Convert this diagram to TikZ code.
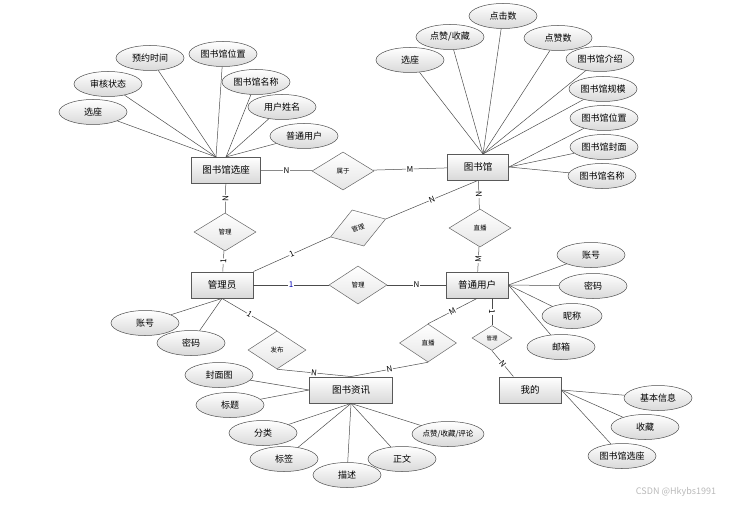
\documentclass[tikz,border=0pt]{standalone}
\usepackage{fontspec}
\setmainfont{Noto Sans CJK SC}
\usetikzlibrary{shapes.geometric}
\begin{document}
\begin{tikzpicture}[x=1pt, y=-1pt,
    entity/.style={rectangle, draw=black!65, line width=0.9pt, top color=white, bottom color=gray!30,
      minimum width=62pt, minimum height=26pt, inner sep=1pt, font=\fontsize{9.5}{10}\selectfont},
    attr/.style={ellipse, draw=black!70, line width=0.5pt, top color=white, bottom color=gray!30,
      minimum width=68pt, minimum height=25pt, inner sep=0pt, font=\fontsize{9}{10}\selectfont},
    rel/.style={diamond, draw=black!60, line width=0.5pt, top color=white, bottom color=gray!20,
      minimum width=62pt, minimum height=38pt, inner sep=0pt, font=\fontsize{6.5}{7}\selectfont},
    card/.style={midway, sloped, fill=white, inner sep=0.5pt, font=\fontsize{8}{9}\selectfont},
    link/.style={draw=black!70, line width=0.5pt}]
    \useasboundingbox (0,0) rectangle (746,505);

    % entities
    \node[entity, minimum width=69pt] (seat) at (226,170) {图书馆选座};
    \node[entity, minimum width=61pt] (lib) at (478,167) {图书馆};
    \node[entity] (admin) at (222,285) {管理员};
    \node[entity] (user) at (477,285) {普通用户};
    \node[entity, minimum width=83pt] (news) at (351,390) {图书资讯};
    \node[entity] (mine) at (530,390) {我的};

    % relations
    \node[rel] (belong) at (343,171) {属于};
    \node[rel] (mgseat) at (225,232) {管理};
    \node[rel, rotate=18, minimum width=58pt] (mglib) at (358,228) {管理};
    \node[rel, minimum width=58pt] (mguser) at (358,285) {管理};
    \node[rel] (livelib) at (480,228) {直播};
    \node[rel, minimum width=58pt] (pub) at (277,350) {发布};
    \node[rel, minimum width=57pt] (livenews) at (428,343) {直播};
    \node[rel, minimum width=40pt, minimum height=25pt, font=\fontsize{5.5}{6}\selectfont] (mgmine) at (492,338) {管理};

    \coordinate (seatA) at (216,157);
    \coordinate (seatB) at (226,157);
    \coordinate (libtop) at (483,154);

    % attributes
    \foreach \n/\x/\y/\txt/\dst in {
      sa1/93/112/选座/seatA, sa2/108/84/审核状态/seatA, sa3/150/58/预约时间/seatA,
      sa4/223/54/图书馆位置/seatA, sa5/256/82/图书馆名称/seatB, sa6/282/107/用户姓名/seatB,
      sa7/304/136/普通用户/seatB,
      la1/410/60/选座/libtop, la2/450/37/{点赞/收藏}/libtop, la3/503/16/点击数/libtop,
      la4/558/38/点赞数/libtop, la5/600/59/图书馆介绍/libtop, la6/603/89/图书馆规模/libtop,
      la7/604/118/图书馆位置/lib.east, la8/604/147/图书馆封面/lib.east, la9/602/176/图书馆名称/lib.east,
      ua1/591/255/账号/user.east, ua2/593/286/密码/user.east, ua4/561/347/邮箱/user.east,
      aa1/145/323/账号/admin.south, aa2/191/343/密码/admin.south,
      na1/219/375/封面图/news.west, na2/230/405/标题/news.west, na3/263/433/分类/news.south,
      na4/284/459/标签/news.south, na5/347/475/描述/news.south, na6/402/459/正文/news.south,
      ya1/658/398/基本信息/mine.east, ya2/645/427/收藏/mine.east, ya3/622/456/图书馆选座/mine.east}
    {
      \node[attr] (\n) at (\x,\y) {\txt};
      \draw[link] (\n) -- (\dst);
    }
    \node[attr, minimum width=60pt] (ua3) at (572,316) {昵称};
    \draw[link] (ua3) -- (user.east);
    \node[attr, minimum width=70pt, font=\fontsize{7.5}{8}\selectfont] (na7) at (448,434) {点赞/收藏/评论};
    \draw[link] (na7) -- (news.south);

    % connectors
    \draw[link] (seat) -- node[card] {N} (belong);
    \draw[link] (belong) -- node[card] {M} (lib);
    \draw[link] (seat) -- node[card] {N} (mgseat);
    \draw[link] (mgseat) -- node[card] {1} (admin);
    \draw[link] (admin.north east) -- node[card] {1} (mglib.west);
    \draw[link] (mglib.east) -- node[card] {N} (lib.south);
    \draw[link] (admin) -- node[card, text=blue!70!black] {1} (mguser);
    \draw[link] (mguser) -- node[card] {N} (user);
    \draw[link] (lib) -- node[card] {N} (livelib);
    \draw[link] (livelib) -- node[card] {M} (user);
    \draw[link] (admin.south) -- node[card] {1} (pub.north);
    \draw[link] (pub.south) -- node[card] {N} (news.north);
    \draw[link] (news.north) -- node[card] {N} (livenews.south);
    \draw[link] (livenews.north) -- node[card] {M} (user.south);
    \draw[link] (mgmine.north |- user.south) -- node[card] {1} (mgmine.north);
    \draw[link] (mgmine.south) -- node[card] {N} (mine.141);

    \node[text=gray!55, font=\fontsize{9}{10}\selectfont] (mark) at (676,492) {CSDN @Hkybs1991};
\end{tikzpicture}
\end{document}
